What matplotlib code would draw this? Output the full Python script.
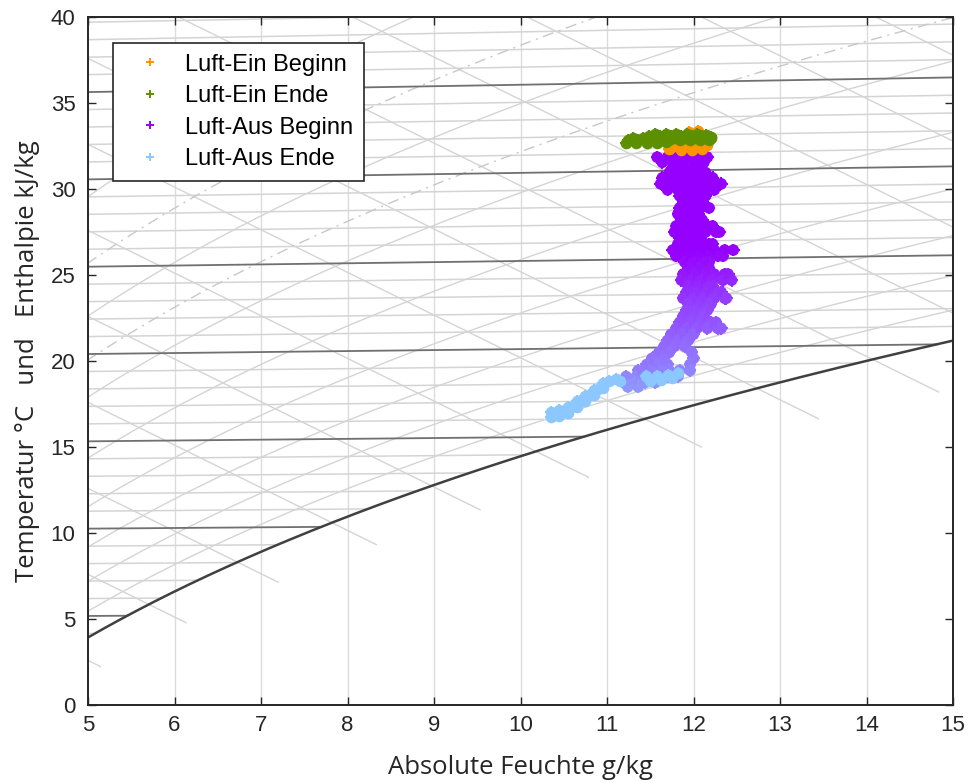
import numpy as np
import matplotlib
matplotlib.use("Agg")
import matplotlib.pyplot as plt
from matplotlib.lines import Line2D
from matplotlib.colors import LinearSegmentedColormap

# ---------------- measured data (absolute humidity g/kg, chart ordinate) ----------------
# Luft-Ein Beginn (orange)
ein_beginn_x = [11.72, 11.85, 11.98, 12.10, 11.78, 11.92, 12.05, 12.16, 11.95, 12.05]
ein_beginn_y = [32.30, 32.28, 32.28, 32.32, 32.50, 32.50, 32.52, 32.55, 33.30, 33.35]

# Luft-Ein Ende (green)
ein_ende_x = [11.55, 11.68, 11.80, 11.92, 12.04, 12.14,
              11.48, 11.61, 11.74, 11.86, 11.98, 12.10, 12.20,
              11.30, 11.42, 11.54, 11.66, 11.78, 11.90, 12.02, 12.14, 12.20,
              11.24, 11.36, 11.48, 11.60, 11.72, 11.84, 11.96, 12.08, 12.18,
              11.22, 11.34, 11.46, 11.58, 11.68]
ein_ende_y = [33.20, 33.22, 33.22, 33.22, 33.20, 33.16,
              33.08, 33.08, 33.08, 33.08, 33.08, 33.08, 33.05,
              32.95, 32.95, 32.95, 32.95, 32.95, 32.95, 32.95, 32.95, 32.95,
              32.82, 32.82, 32.82, 32.82, 32.84, 32.86, 32.86, 32.86, 32.86,
              32.70, 32.70, 32.70, 32.70, 32.72]

# Luft-Aus Beginn (purple -> periwinkle), rows read top to bottom
aus_beginn_rows_y = [31.85, 31.55, 31.25, 30.95, 30.65, 30.30, 29.95, 29.60, 29.25, 28.90,
                     28.55, 28.20, 27.85, 27.50, 27.15, 26.80, 26.45, 26.10, 25.75, 25.40,
                     25.05, 24.70, 24.35, 24.00, 23.65, 23.30, 22.95, 22.60, 22.25, 21.90,
                     21.55, 21.20, 20.85, 20.50, 20.15, 19.80, 19.45, 19.10, 18.75, 18.50]
aus_beginn_rows_x = [
    [11.58, 11.70, 11.82, 11.94, 12.06, 12.16],
    [11.64, 11.76, 11.88, 12.00, 12.12],
    [11.76, 11.88, 12.00, 12.08],
    [11.72, 11.84, 11.96, 12.08, 12.14],
    [11.64, 11.76, 11.88, 12.00, 12.12, 12.22],
    [11.62, 11.74, 11.86, 11.98, 12.10, 12.22, 12.32],
    [11.70, 11.82, 11.94, 12.06, 12.18, 12.24],
    [11.84, 11.96, 12.08, 12.14],
    [11.88, 12.00, 12.10],
    [11.84, 11.96, 12.08, 12.18],
    [11.82, 11.94, 12.06],
    [11.86, 11.98, 12.10],
    [11.80, 11.92, 12.04, 12.16, 12.22],
    [11.78, 11.90, 12.02, 12.14, 12.26, 12.30],
    [11.84, 11.96, 12.08],
    [11.82, 11.94, 12.06, 12.18, 12.22],
    [11.76, 11.88, 12.00, 12.12, 12.24, 12.36, 12.46],
    [11.80, 11.92, 12.04, 12.16, 12.28, 12.34],
    [11.90, 12.02, 12.14, 12.18],
    [11.94, 12.06, 12.18],
    [11.88, 12.00, 12.12, 12.24, 12.36, 12.40],
    [11.86, 11.98, 12.10, 12.22, 12.34, 12.44],
    [11.94, 12.06, 12.18, 12.22],
    [11.92, 12.04, 12.16, 12.28, 12.32],
    [11.88, 12.00, 12.12, 12.24, 12.36, 12.38],
    [11.94, 12.06, 12.18, 12.20],
    [11.92, 12.04, 12.16],
    [11.88, 12.00, 12.12],
    [11.84, 11.96, 12.08, 12.20, 12.26],
    [11.80, 11.92, 12.04, 12.16, 12.28, 12.32],
    [11.74, 11.86, 11.98, 12.00],
    [11.70, 11.82, 11.94],
    [11.66, 11.78, 11.90],
    [11.60, 11.72, 11.98],
    [11.52, 11.64, 12.00],
    [11.46, 11.58, 11.70, 11.96],
    [11.36, 11.48, 11.60, 11.72, 11.84, 11.96],
    [11.22, 11.34, 11.46, 11.58, 11.70, 11.82],
    [11.20, 11.32, 11.44, 11.56],
    [11.24, 11.36],
]

# Luft-Aus Ende (light blue)
aus_ende_x = [11.45, 11.58, 11.70, 11.82, 11.50, 11.62, 11.75, 11.10, 11.15,
              11.02, 10.95, 10.95, 10.85, 10.85, 10.75, 10.75, 10.65, 10.65,
              10.55, 10.55, 10.45, 10.45, 10.35, 10.35,
              10.90, 10.80, 10.70, 10.60, 10.50, 10.40]
aus_ende_y = [19.10, 19.15, 19.20, 19.30, 18.85, 18.90, 19.00, 18.95, 18.85,
              18.85, 18.70, 18.45, 18.30, 18.05, 17.95, 17.70, 17.70, 17.35,
              17.35, 17.00, 17.15, 16.80, 17.05, 16.75,
              18.40, 18.05, 17.70, 17.35, 17.05, 16.85]

legend_labels = ["Luft-Ein Beginn", "Luft-Ein Ende", "Luft-Aus Beginn", "Luft-Aus Ende"]
legend_colors = ["#FF9600", "#5C9000", "#9600FF", "#8CC8FF"]
aus_mid_color = "#9096FF"

# ---------------- chart furniture levels (h-x diagram) ----------------
isotherm_levels = list(range(0, 46))          # degC, light every 1 K
isotherm_major = [5, 10, 15, 20, 25, 30, 35, 40]
enthalpy_levels = list(range(10, 90, 5))       # kJ/kg
rh_levels = [0.1, 0.2, 0.3, 0.4, 0.5, 0.6, 0.7, 0.8, 0.9]
rh_dashdot = [0.25, 0.35]
x_ticks = list(range(5, 16))
y_ticks = list(range(0, 41, 5))

P_TOT = 100.3  # kPa

def psat(t):
    return 0.6112 * np.exp(17.62 * t / (243.12 + t))

def x_of(t, phi):
    pv = phi * psat(t)
    return 622.0 * pv / (P_TOT - pv)

def y_of(t, x):
    return 1.006 * t + 0.02 * x + 0.00186 * t * x

# ---------------- figure ----------------
fig = plt.figure(figsize=(9.73, 7.83), dpi=100)
ax = fig.add_axes([88 / 973, 78 / 783, 865 / 973, 688 / 783])
ax.set_xlim(5, 15)
ax.set_ylim(0, 40)

light = "#d4d4d4"
grid_c = "#dcdcdc"
dark_iso = "#707070"

for xv in x_ticks[1:-1]:
    ax.axvline(xv, color=grid_c, lw=1.0, zorder=0.5)

tt = np.linspace(-10, 60, 1400)

# isotherms
for t in isotherm_levels:
    xs = x_of(t, 1.0)
    xx = np.array([0.0, xs])
    col = dark_iso if t in isotherm_major else light
    lw = 1.3 if t in isotherm_major else 1.1
    ax.plot(xx, y_of(t, xx), color=col, lw=lw, zorder=1.2 if t in isotherm_major else 1)

# isenthalps
xsat_curve = x_of(tt, 1.0)
hsat_curve = 1.006 * tt + xsat_curve * (2.501 + 0.00186 * tt)
for h in enthalpy_levels:
    xs = np.interp(h, hsat_curve, xsat_curve)
    xe = 1.04 * xs + 0.2
    xx = np.array([0.0, xe])
    ax.plot(xx, h - 2.481 * xx, color=light, lw=1.0, zorder=1)

# relative humidity lines
for phi in rh_levels:
    xx = x_of(tt, phi)
    ax.plot(xx, y_of(tt, xx), color=light, lw=1.0, zorder=1)
for phi in rh_dashdot:
    xx = x_of(tt, phi)
    ax.plot(xx, y_of(tt, xx), color="#c8c8c8", lw=1.0, ls=(0, (8, 4, 1.5, 4)), zorder=1)

# saturation curve
ax.plot(xsat_curve, y_of(tt, xsat_curve), color="#404040", lw=1.8, zorder=2)

# ---------------- data ----------------
aus_bx = np.concatenate([np.array(r) for r in aus_beginn_rows_x])
aus_by = np.concatenate([np.full(len(r), yv) for r, yv in zip(aus_beginn_rows_x, aus_beginn_rows_y)])
cmap_aus = LinearSegmentedColormap.from_list("aus", [(0.0, legend_colors[2]), (0.45, legend_colors[2]),
                                                     (1.0, aus_mid_color)])
aus_cols = cmap_aus(np.linspace(0, 1, len(aus_bx)))

def blob(xv, yv, col, z):
    ax.scatter(xv, yv, s=70, c=col, marker="o", linewidths=0, zorder=z)
    ax.scatter(xv, yv, s=85, c=col, marker="+", linewidths=1.5, zorder=z)

blob(aus_bx, aus_by, aus_cols, 3)
blob(np.array(aus_ende_x), np.array(aus_ende_y), legend_colors[3], 3.1)
blob(np.array(ein_beginn_x), np.array(ein_beginn_y), legend_colors[0], 3.2)
blob(np.array(ein_ende_x), np.array(ein_ende_y), legend_colors[1], 3.3)

# ---------------- axes styling ----------------
font = "Liberation Sans"
ax.set_xticks(x_ticks)
ax.set_yticks(y_ticks)
ax.tick_params(direction="in", top=True, right=True, length=6, width=1.0,
               labelsize=16, colors="#262626")
ax.tick_params(axis="x", pad=7)
ax.tick_params(axis="y", pad=9)
for lab in ax.get_xticklabels() + ax.get_yticklabels():
    lab.set_fontfamily(font)
for sp in ax.spines.values():
    sp.set_color("#262626")
    sp.set_linewidth(1.4)

ax.set_xlabel("Absolute Feuchte g/kg", fontsize=18.5, family="Open Sans", color="#262626", labelpad=14)
ax.set_ylabel("Temperatur °C   und   Enthalpie kJ/kg", fontsize=18.5, family="Open Sans",
              color="#262626", labelpad=8)

handles = [Line2D([], [], ls="", marker="+", ms=6, mew=1.4, color=c) for c in legend_colors]
leg = ax.legend(handles, legend_labels, loc="upper left", bbox_to_anchor=(25 / 865, (705 - 43) / 688),
                borderaxespad=0, frameon=True, fancybox=False, framealpha=1,
                prop={"family": font, "size": 17}, handlelength=2.2, handletextpad=0.4,
                labelspacing=0.4, borderpad=0.45)
leg.get_frame().set_edgecolor("#262626")
leg.get_frame().set_linewidth(1.2)
leg.set_zorder(10)

fig.savefig("out.png", dpi=100)
